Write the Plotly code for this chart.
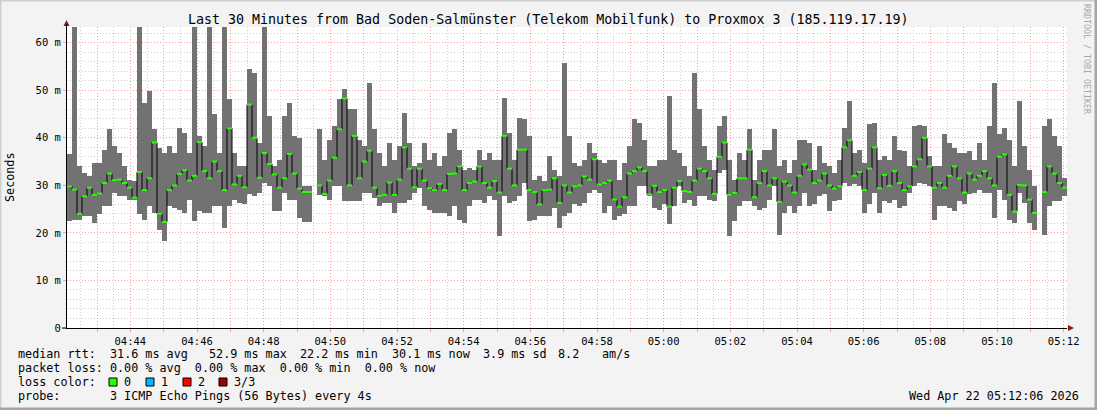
import datetime as dt
import plotly.graph_objects as go

# ---------------- data ----------------
title_text = "Last 30 Minutes from Bad Soden-Salmünster (Telekom Mobilfunk) to Proxmox 3 (185.119.17.19)"
start_time = dt.datetime(2026, 4, 22, 4, 42, 6)
end_time = dt.datetime(2026, 4, 22, 5, 12, 6)
step_seconds = 9

# median RTT per interval (ms); None = no data
median_ms = [
    29.8, 29.1, 24.0, 27.7, 29.5, 28.0, 28.3, 30.5, 32.5, 31.1,
    31.2, 30.5, 29.5, 27.4, 32.8, 29.0, 31.5, 39.0, 24.0, 22.3,
    29.0, 30.0, 32.4, 33.2, 31.0, 32.0, 39.1, 33.0, 31.5, 35.0,
    33.0, 29.0, 42.0, 30.2, 32.0, 29.6, 47.0, 40.0, 31.6, 36.8,
    34.5, 32.3, 29.5, 31.5, 36.6, 32.5, 29.3, 28.6, 28.6, None,
    30.0, 28.2, 31.0, 35.8, 41.8, 48.3, 30.0, 40.4, 31.5, 35.0,
    37.3, 29.5, 27.8, 28.0, 30.6, 28.0, 31.2, 38.0, 33.5, 29.6,
    33.5, 31.0, 29.4, 29.0, 30.3, 29.0, 32.4, 32.5, 34.0, 29.0,
    30.5, 30.8, 34.0, 30.5, 29.5, 30.9, 28.5, 40.4, 33.5, 30.0,
    37.5, 37.5, 29.0, 28.6, 26.0, 29.0, 29.1, 31.5, 26.3, 30.0,
    28.5, 29.8, 30.0, 31.9, 31.2, 35.5, 30.2, 30.5, 31.0, 27.0,
    25.5, 27.5, 32.5, 33.0, 33.8, 33.0, 28.1, 29.9, 28.6, 29.0,
    25.5, 29.5, 30.9, 28.8, 28.6, 31.0, 33.5, 33.0, 31.5, 28.2,
    36.0, 39.0, 28.0, 28.4, 31.5, 31.5, 37.5, 27.5, 30.5, 33.0,
    30.0, 31.5, 26.5, 30.8, 30.0, 28.5, 32.0, 34.4, 33.3, 30.5,
    31.0, 32.5, 30.0, 29.3, 29.8, 38.0, 39.5, 32.0, 32.8, 29.0,
    33.5, 38.0, 29.4, 32.2, 29.9, 33.0, 30.5, 29.0, 29.8, 34.0,
    35.5, 40.0, 34.0, 29.5, 30.5, 29.5, 32.0, 34.0, 31.5, 28.5,
    32.5, 31.2, 32.0, 33.0, 31.5, 30.0, 36.0, 36.5, 28.0, 24.5,
    30.1, 30.0, 27.0, 24.2, None, 28.6, 34.0, 32.5, 30.5, 29.5,
]

# lowest ping of each interval (ms)
smoke_low_ms = [
    22.5, 22.8, 22.8, 23.5, 23.5, 22.1, 23.9, 25.6, 25.6, 28.4,
    27.7, 27.7, 27.0, 27.0, 23.9, 22.8, 25.6, 24.2, 20.7, 18.2,
    25.6, 25.3, 24.9, 24.2, 27.0, 22.5, 24.6, 24.2, 24.2, 25.6,
    25.6, 21.1, 25.6, 27.0, 26.3, 26.0, 28.1, 27.7, 28.4, 30.5,
    29.8, 24.6, 24.6, 28.4, 27.0, 27.0, 23.2, 22.3, 22.3, None,
    28.0, 27.7, 27.0, 29.8, 29.8, 26.7, 26.7, 26.7, 26.7, 28.4,
    28.4, 27.4, 25.6, 26.3, 26.3, 24.2, 26.3, 26.3, 27.0, 28.4,
    29.5, 25.6, 24.9, 24.2, 24.2, 24.2, 23.5, 25.6, 22.8, 22.1,
    25.6, 27.0, 27.0, 26.3, 27.7, 27.0, 19.3, 27.7, 26.3, 26.7,
    27.7, 30.5, 22.5, 22.8, 23.5, 23.5, 23.5, 25.3, 21.1, 23.5,
    24.2, 26.0, 25.6, 26.3, 28.4, 29.1, 28.4, 24.2, 25.6, 22.8,
    23.5, 23.9, 25.6, 25.6, 29.8, 29.8, 27.7, 25.3, 24.9, 26.0,
    21.8, 25.6, 29.8, 26.3, 27.0, 25.6, 27.7, 27.7, 27.0, 26.7,
    32.6, 33.3, 19.3, 22.5, 25.6, 26.7, 26.7, 25.6, 24.9, 25.3,
    27.0, 29.8, 19.6, 24.2, 25.6, 24.2, 25.6, 28.4, 25.6, 26.0,
    27.7, 28.1, 24.6, 26.7, 27.0, 30.5, 29.8, 30.2, 29.8, 24.2,
    26.0, 28.4, 24.2, 26.7, 26.3, 27.0, 25.3, 25.6, 28.4, 29.8,
    30.5, 30.2, 29.8, 22.8, 25.6, 25.6, 25.3, 24.6, 26.7, 26.0,
    28.1, 28.4, 29.1, 28.4, 28.4, 23.2, 29.1, 27.0, 22.8, 22.1,
    28.4, 26.3, 22.1, 20.7, None, 19.6, 25.6, 26.7, 26.7, 27.7,
]

# highest ping of each interval (ms); 70 = off the top of the chart
smoke_high_ms = [
    36.5, 70.0, 34.0, 32.6, 32.0, 34.6, 34.6, 37.5, 41.8, 38.2,
    36.8, 34.0, 31.2, 31.0, 70.0, 47.4, 49.8, 41.8, 37.9, 36.8,
    38.2, 36.8, 42.1, 41.1, 36.8, 70.0, 40.4, 38.2, 70.0, 45.0,
    36.8, 70.0, 48.1, 36.8, 34.0, 34.0, 54.4, 53.7, 38.9, 70.0,
    44.6, 34.0, 35.4, 44.6, 47.4, 40.4, 40.0, 29.8, 29.8, None,
    41.8, 35.4, 39.6, 42.5, 48.1, 50.2, 46.0, 46.0, 39.6, 38.2,
    51.6, 41.8, 36.8, 34.0, 38.9, 35.4, 38.2, 45.3, 38.9, 34.0,
    34.7, 38.9, 35.4, 36.8, 34.0, 36.1, 41.1, 41.8, 37.5, 33.3,
    33.7, 33.3, 37.5, 35.4, 36.8, 35.4, 35.4, 48.3, 41.1, 35.4,
    44.2, 43.9, 40.4, 31.2, 31.9, 30.9, 36.1, 33.3, 31.9, 55.8,
    40.4, 34.7, 34.0, 35.4, 38.9, 36.8, 35.4, 34.7, 35.4, 35.4,
    31.2, 34.7, 38.2, 43.9, 43.2, 39.6, 34.0, 34.0, 35.4, 35.4,
    48.8, 37.5, 36.8, 34.0, 31.9, 53.7, 46.0, 38.2, 35.4, 33.3,
    42.5, 44.6, 35.4, 31.2, 36.8, 35.4, 41.8, 31.2, 35.4, 37.5,
    37.5, 41.8, 34.0, 35.4, 32.6, 35.4, 39.6, 39.6, 38.9, 33.3,
    38.2, 34.7, 34.0, 32.6, 35.4, 42.1, 47.7, 36.8, 37.5, 34.7,
    42.8, 43.2, 35.4, 36.1, 35.4, 40.4, 37.5, 37.2, 34.0, 42.5,
    42.6, 42.5, 36.1, 34.0, 34.0, 40.7, 38.9, 37.9, 36.8, 36.8,
    37.2, 35.4, 38.9, 35.4, 42.5, 51.6, 40.7, 42.1, 39.6, 34.0,
    47.7, 38.2, 33.3, 29.8, None, 42.5, 43.9, 40.4, 38.2, 31.6,
]

x_tick_labels = ["04:44", "04:46", "04:48", "04:50", "04:52", "04:54", "04:56", "04:58",
                 "05:00", "05:02", "05:04", "05:06", "05:08", "05:10", "05:12"]
y_tick_values = [0, 10, 20, 30, 40, 50, 60]
y_tick_labels = ["0", "10 m", "20 m", "30 m", "40 m", "50 m", "60 m"]

legend_rtt_parts = ["median rtt:", "31.6 ms avg", "52.9 ms max", "22.2 ms min",
                    "30.1 ms now", "3.9 ms sd", "8.2", "am/s"]
legend_loss = "packet loss: 0.00 % avg  0.00 % max  0.00 % min  0.00 % now"
legend_color_label = "loss color:"
loss_names = ["0", "1", "2", "3/3"]
loss_colors = ["#26ff00", "#00b8ff", "#ff0000", "#a00000"]
legend_probe = "probe:       3 ICMP Echo Pings (56 Bytes) every 4s"
date_text = "Wed Apr 22 05:12:06 2026"
side_text = "RRDTOOL / TOBI OETIKER"

# ---------------- layout helpers ----------------
W, H = 1097, 410
PL, PR, PT, PB = 67, 1067, 27, 328
MONO = "DejaVu Sans Mono"
SMOKE = "#727272"
rtt_part_x = [16, 108, 207, 298, 390, 481, 556, 600]


def px(x):
    return (x - PL) / (PR - PL)


def py(y):
    return (PB - y) / (PB - PT)


def nb(s):
    return s.replace(" ", "\u00a0")


times = [start_time + dt.timedelta(seconds=step_seconds * i) for i in range(len(median_ms))]

fig = go.Figure()

# smoke (spread of the pings)
heights = [None if (h is None or l is None) else h - l for h, l in zip(smoke_high_ms, smoke_low_ms)]
fig.add_trace(go.Bar(
    x=times, y=heights, base=smoke_low_ms,
    width=step_seconds * 1000, offset=0,
    marker=dict(color=SMOKE, line=dict(width=0)),
    hoverinfo="skip", showlegend=False,
))

# median: black stepped connector
fig.add_trace(go.Scatter(
    x=times + [end_time], y=median_ms + [median_ms[-1]],
    mode="lines", line=dict(color="#000000", width=1, shape="hv"),
    connectgaps=False, hoverinfo="skip", showlegend=False,
))

# median: green loss-colour segments
gx, gy = [], []
for t, m in zip(times, median_ms):
    if m is None:
        continue
    gx += [t, t + dt.timedelta(seconds=step_seconds), None]
    gy += [m, m, None]
fig.add_trace(go.Scatter(
    x=gx, y=gy, mode="lines", line=dict(color=loss_colors[0], width=2),
    hoverinfo="skip", showlegend=False,
))

# axis ticks
major_vals, major_text = [], []
t = dt.datetime(2026, 4, 22, 4, 43)
while t <= end_time:
    major_vals.append(t)
    lab = t.strftime("%H:%M")
    major_text.append(lab if lab in x_tick_labels else "")
    t += dt.timedelta(minutes=1)
minor_vals = []
t = dt.datetime(2026, 4, 22, 4, 42, 30)
while t <= end_time:
    minor_vals.append(t)
    t += dt.timedelta(seconds=30)

fig.update_xaxes(
    range=[start_time, end_time],
    tickmode="array", tickvals=major_vals, ticktext=major_text,
    showgrid=True, gridcolor="#ff9c9c", griddash="1px,2px", gridwidth=1,
    minor=dict(tickmode="array", tickvals=minor_vals, showgrid=True,
               gridcolor="#cfcfcf", griddash="1px,2px", gridwidth=1),
    showline=True, linecolor="#000000", linewidth=1,
    ticks="outside", ticklen=3, tickcolor="#ff9c9c",
    tickfont=dict(family=MONO, size=10.5, color="#000000"),
    zeroline=False, fixedrange=True,
)
fig.update_yaxes(
    range=[0, 63.3],
    tickmode="array", tickvals=y_tick_values, ticktext=y_tick_labels,
    showgrid=True, gridcolor="#ff9c9c", griddash="1px,2px", gridwidth=1,
    minor=dict(tickmode="array", tickvals=list(range(2, 64, 2)), showgrid=True,
               gridcolor="#cfcfcf", griddash="1px,2px", gridwidth=1),
    showline=True, linecolor="#000000", linewidth=1,
    ticks="outside", ticklen=3, tickcolor="#ff9c9c",
    tickfont=dict(family=MONO, size=10.5, color="#000000"),
    zeroline=False, fixedrange=True,
)

shapes = []
# frame of the image (3d look)
shapes += [
    dict(type="line", xref="paper", yref="paper", x0=px(0.5), x1=px(0.5), y0=py(0), y1=py(H),
         line=dict(color="#cfcfcf", width=2)),
    dict(type="line", xref="paper", yref="paper", x0=px(0), x1=px(W), y0=py(0.5), y1=py(0.5),
         line=dict(color="#cfcfcf", width=2)),
    dict(type="line", xref="paper", yref="paper", x0=px(W - 1), x1=px(W - 1), y0=py(0), y1=py(H),
         line=dict(color="#a6a6a6", width=3)),
    dict(type="line", xref="paper", yref="paper", x0=px(0), x1=px(W), y0=py(H - 1), y1=py(H - 1),
         line=dict(color="#a6a6a6", width=3)),
]
# axis arrows
shapes.append(dict(type="path", xref="paper", yref="paper",
                   path=f"M {px(63.5)} {py(26)} L {px(69.5)} {py(26)} L {px(66.5)} {py(20)} Z",
                   fillcolor="#8b1a1a", line=dict(width=0)))
shapes.append(dict(type="line", xref="paper", yref="paper", x0=px(66.5), x1=px(66.5),
                   y0=py(PT), y1=py(24), line=dict(color="#000000", width=1)))
shapes.append(dict(type="path", xref="paper", yref="paper",
                   path=f"M {px(1068)} {py(325)} L {px(1068)} {py(331)} L {px(1074)} {py(328)} Z",
                   fillcolor="#8b1a1a", line=dict(width=0)))
shapes.append(dict(type="line", xref="paper", yref="paper", x0=px(62), x1=px(PL),
                   y0=0, y1=0, line=dict(color="#000000", width=1)))
# loss colour boxes
box_x = [109, 146, 183, 219]
for bx, col in zip(box_x, loss_colors):
    shapes.append(dict(type="rect", xref="paper", yref="paper",
                       x0=px(bx), x1=px(bx + 8), y0=py(386), y1=py(378),
                       fillcolor=col, line=dict(color="#000000", width=1)))

annotations = []


def text(s, x, y, xanchor="left", size=11.75, color="#000000", angle=0, yanchor="middle"):
    annotations.append(dict(text=nb(s), x=px(x), y=py(y), xref="paper", yref="paper",
                            xanchor=xanchor, yanchor=yanchor, showarrow=False, textangle=angle,
                            font=dict(family=MONO, size=size, color=color)))


text(title_text, 548.5, 19, xanchor="center", size=13.3)
text("Seconds", 10, 177, xanchor="center", angle=-90)
text(side_text, 1087, 59, xanchor="center", size=8.3, color="#a8a8a8", angle=90)
for part, xp in zip(legend_rtt_parts, rtt_part_x):
    text(part, xp, 354)
text(legend_loss, 16, 368)
text(legend_color_label, 16, 382)
for bx, name in zip(box_x, loss_names):
    text(name, bx + 13, 382)
text(legend_probe, 16, 396)
text(date_text, 1081, 396, xanchor="right")

fig.update_layout(
    width=W, height=H,
    margin=dict(l=PL, r=W - PR, t=PT, b=H - PB, pad=0),
    paper_bgcolor="#f3f3f3", plot_bgcolor="#ffffff",
    bargap=0, barmode="overlay",
    showlegend=False, hovermode=False,
    shapes=shapes, annotations=annotations,
)

fig.write_html("out.html", config={"displayModeBar": False},
               post_script="document.body.style.margin='0';document.body.style.overflow='hidden';")
